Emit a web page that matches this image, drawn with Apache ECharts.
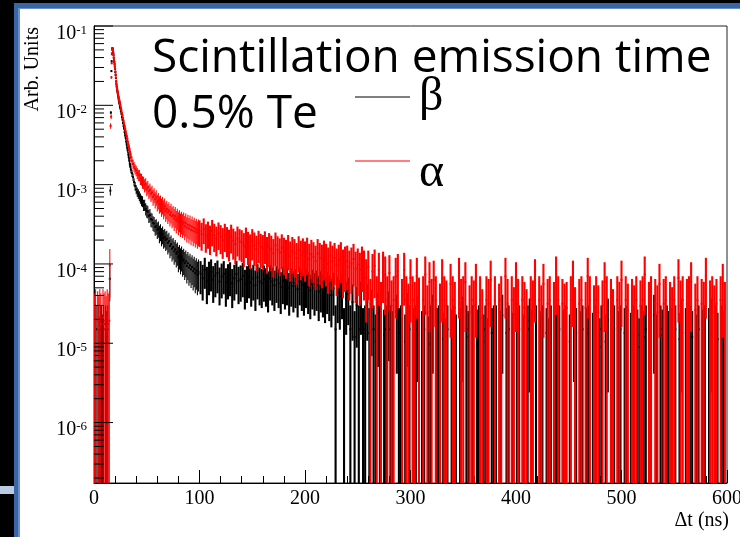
<!DOCTYPE html>
<html>
<head>
<meta charset="utf-8">
<script src="https://cdn.jsdelivr.net/npm/echarts@6/dist/echarts.min.js"></script>
<style>
html,body{margin:0;padding:0;background:#000;width:740px;height:537px;overflow:hidden}
#slide{position:absolute;left:14px;top:3px;width:726px;height:534px;background:#3a66a6}
#edge{position:absolute;left:18px;top:8px;width:722px;height:529px;background:#6890cb}
#page{position:absolute;left:20px;top:9px;width:720px;height:528px;background:#fff}
#tab{position:absolute;left:0;top:486px;width:14px;height:8px;background:#b8cae4}
#main{position:absolute;left:0;top:0;width:740px;height:537px}
</style>
</head>
<body>
<div id="slide"></div><div id="edge"></div><div id="page"></div><div id="tab"></div>
<div id="main"></div>
<script>
// one "count" in Arb. Units for each histogram
var unitBeta = 1.5e-5;
var unitAlpha = 3.5e-5;
var yMin = 1.73e-7, yMax = 0.1;

// before the pulse, 1 ns bins
var betaPre = [1.0,0.8,1.0,0,1.0,0.6,1.0,1.0,0.7,1.0,0,1.0,0.8,1.0,0];
var alphaPre = [0.5,0.6,0,0.55,0.45,0.6,0.5,0,0.6,0.5,0.55,0.45,0.6,0.5,0.55];

// rising edge + fast decay, values in Arb. Units
var headT = [15,15.25,15.5,15.75,16,16.25,16.5,16.75,17,17.25,17.5,17.75,18,18.25,18.5,18.75,19,19.25,19.5,19.75,
  20,20.25,20.5,20.75,21,21.25,21.5,21.75,22,22.25,22.5,22.75,23,23.25,23.5,23.75,24,24.25,24.5,24.75,
  25,25.5,26,26.5,27,27.5,28,28.5,29,29.5,30,30.5,31,31.5,32,32.5,33,33.5,34,34.5];
var betaHead = [6.5e-5,0,8.4e-4,0,0.0081,0,0.027,0.036,0.045,0.051,0.0528,0.0508,0.0486,0.0458,0.0433,0.0398,0.0372,0.0352,0.0330,0.0308,
  0.0286,0.0263,0.0241,0.0220,0.0199,0.0184,0.0172,0.0164,0.0155,0.0148,0.0141,0.0134,0.0128,0.0122,0.0117,0.0112,0.0108,0.0104,0.0099,0.0095,
  0.0091,0.0084,0.0078,0.0071,0.0066,0.0060,0.0055,0.0051,0.0046,0.0042,0.0039,0.0035,0.0032,0.0029,0.0027,0.0024,0.0022,0.0020,0.0018,0.0017];
var alphaHead = [9.6e-5,0,0,0.0055,0,0.0072,0.0225,0.034,0.044,0.050,0.0525,0.0513,0.0490,0.0462,0.0430,0.0401,0.0376,0.0355,0.0334,0.0310,
  0.0289,0.0266,0.0245,0.0224,0.0202,0.0187,0.0176,0.0167,0.0159,0.0151,0.0146,0.0139,0.0133,0.0128,0.0123,0.0119,0.0115,0.0112,0.0107,0.0104,
  0.0100,0.0093,0.0087,0.0080,0.0075,0.0069,0.0064,0.0059,0.0055,0.0051,0.0047,0.0044,0.0041,0.0038,0.0035,0.0032,0.0030,0.0028,0.0026,0.0024];

// 35..99 ns, 1 ns bins, counts
var betaMid = [103,93,83,72,64,58,54,51,48,45,42,41,37,37,33,31,30.5,27,27.5,24.5,24,22,21.5,19.5,20,18,18.6,16.2,17,15,
  15.8,14.1,14.6,13.4,13.8,12.3,12.9,11.2,11.8,10.4,10.9,9.6,10.2,9,9.4,8.1,8.6,7.7,8.2,7.3,7.6,6.8,7.2,6.3,6.8,6,6.4,5.7,6.1,5.4,
  5.8,5.1,5.5,4.9,5.3];
var alphaMid = [64,57,52,48,45,43,40,38,37.5,34,33.5,31,30.5,28,29,25.5,26.5,23.5,24.5,22,22.8,20,21.2,18.6,19.8,17.2,18.1,16.3,16.8,15.1,
  16,14.2,15.2,13.3,14.1,12.7,13.5,11.9,12.8,11.4,11.9,10.7,11.5,10.1,10.9,9.7,10.4,9.3,9.9,9.1,9.6,8.6,9.3,8.2,8.9,8,8.7,7.7,8.4,7.5,
  8.1,7.3,7.8,7.1,7.6];

// 100..600 ns, 2 ns bins, counts (beta from 101, alpha from 100)
var betaTail = [
  5.0,4.4,5.6,4.1,4.9,5.3,4.2,4.7,5.1,4.0, 4.6,5.0,3.9,4.5,4.8,3.8,4.4,5.0,4.1,4.3,
  4.7,3.7,4.2,4.6,3.9,4.4,3.6,4.5,4.0,3.8, 4.3,3.9,3.5,4.4,4.0,3.6,4.2,3.8,3.4,4.1,
  3.7,4.0,3.3,3.9,3.5,3.8,3.2,4.0,3.6,3.3, 3.8,3.4,3.1,3.7,3.3,3.6,3.0,3.5,3.2,2.9,
  3.4,3.0,2.7,3.3,1.0,2.9,2.6,3.1,0.9,2.4, 2.8,1.0,2.2,0.8,2.0,1.0,2.4,0.9,1.0,2.2,
  0.9,1.8,1.0,0.7,1.6,1.0,0,0.85,1.0,1.7, 1.0,0.8,0,1.5,0.9,1.0,0,0.7,1.6,1.0,
  0,0.9,1.0,1.4,0,0.8,1.0,0,0.65,1.0, 1.5,0,0.9,1.0,0,0.75,0.6,1.0,0,0.85,
  1.0,0.7,0,0.9,1.4,0,1.0,0.8,0,1.0, 0,0.85,1.0,0,0.7,1.0,0.6,0,0.9,1.0,
  1.0,0,0.8,1.5,0,0.9,1.0,0,0.75,0, 0.9,1.0,0,0.7,0,1.0,1.3,0.85,0,1.0,
  0,0.8,1.0,0,0.9,0.6,1.0,0,0.7,1.0, 1.0,0,0.85,1.0,0,0.7,0,1.4,0.9,0,
  0.8,1.0,0,0.9,1.0,0,0.75,1.0,0,0.6, 1.0,0,0.7,1.3,0,0.9,1.0,0,0.8,1.0,
  0,0.9,1.0,0,0.75,1.0,0,0.85,0.6,1.0, 0.8,1.0,0,0.9,0,1.5,0.7,0,1.0,0.85,
  0,1.0,0.8,0.9,0,1.0,0,0.75,1.3,0, 0.9,0,1.0,0.8,0,0.7,1.0,0,0.85,1.0,
  0,0.9,1.3,0,1.0,0.75,0,1.0,0.8,0];
var alphaTail = [
  7.4,6.8,7.9,6.5,7.1,6.2,7.5,6.6,6.0,6.9, 6.3,5.7,6.6,5.9,5.4,6.4,5.6,5.1,6.0,5.5,
  5.3,4.8,5.8,5.0,4.6,5.5,4.9,4.4,5.2,4.7, 4.5,5.1,4.2,4.8,4.4,3.9,4.9,4.3,4.0,4.6,
  4.1,3.8,4.5,3.6,4.2,3.9,3.4,4.3,3.7,4.0, 3.6,4.1,3.3,3.8,3.5,3.1,3.9,3.4,3.2,3.7,
  3.3,2.9,3.6,3.1,3.4,2.8,3.2,3.5,2.7,3.0, 3.1,2.6,2.9,3.3,2.5,2.8,2.4,3.0,2.6,1.9,
  2.6,0.9,2.3,2.7,1.0,2.4,0.8,2.5,2.1,1.0, 2.2,0.85,1.0,2.0,2.3,0,0.9,2.4,1.0,0.75,
  1.9,1.0,0.8,2.0,0.95,0,1.0,2.1,0.7,1.7, 0.9,1.8,1.0,0,0.75,1.9,1.0,0.85,0,1.6,
  1.0,0.8,0,2.0,0.9,1.0,1.7,0,0.7,1.0, 0.85,1.6,0,1.0,0.6,0,1.0,0.9,1.8,0,
  1.0,0,0.75,1.0,0,2.0,0.9,0,1.0,0.65, 1.7,0.9,0,1.0,0.8,0.6,0,1.0,0.85,1.9,
  0,1.0,0.7,1.6,0,0.9,1.0,0,0.8,2.1, 1.0,0,0.9,0.75,0.8,0,1.0,1.8,0.65,0,
  0.9,1.0,0,0.8,2.0,1.0,0,0.7,1.0,0.7, 0,0.85,1.7,1.0,0,0.9,0.6,0,1.0,0.8,
  1.8,0,1.0,0.75,0,0.9,0.7,1.0,0,0.85, 1.0,2.1,0,0.8,1.0,0,0.9,0.7,1.6,0,
  0.9,1.0,0,0.8,0.65,1.0,0,1.9,0.85,1.0, 0,0.9,1.0,1.7,0,0.75,1.0,0,0.9,0.8,
  2.0,0,0.85,1.0,0.7,0.9,0,1.0,1.6,0.8];

var yDecades = [-6,-5,-4,-3,-2,-1];
var yMinorSteps = [2,3,4,5,6,7,8,9];

// each point: [t, value, error, bin width ns]
function buildBins(pre, preT0, head, mid, tail, tailT0, unit) {
  var pts = [];
  pre.forEach(function (n, i) { pts.push([preT0 + i, n * unit, 1]); });
  head.forEach(function (v, i) { pts.push([headT[i], v, 0.25]); });
  mid.forEach(function (n, i) { pts.push([35 + i, n * unit, 1]); });
  tail.forEach(function (n, i) { pts.push([tailT0 + 2 * i, n * unit, 2]); });
  return pts.filter(function (p) { return p[1] > 0; }).map(function (p) {
    return [p[0], p[1], Math.sqrt(p[1] * unit), p[2]];
  });
}

function binRenderer(color) {
  return function (params, api) {
    var t = api.value(0), v = api.value(1), e = api.value(2);
    var cs = params.coordSys;
    var bottom = cs.y + cs.height;
    var top = api.coord([t, Math.min(v + e, yMax)]);
    var lo = v - e;
    var yLo = lo > yMin ? api.coord([t, lo])[1] : bottom;
    var w = Math.max(1, api.size([api.value(3), 1])[0]);
    var kids = [{
      type: 'line',
      shape: { x1: top[0], y1: top[1], x2: top[0], y2: yLo },
      style: { stroke: color, lineWidth: w }
    }];
    if (v > yMin) {
      var m = api.coord([t, v]);
      kids.push({ type: 'rect', shape: { x: m[0] - 1, y: m[1] - 1, width: 2, height: 2 }, style: { fill: color } });
    }
    return { type: 'group', children: kids };
  };
}

// ROOT style ticks on the log axis
var yTicks = [];
yDecades.forEach(function (d) {
  yTicks.push([0, Math.pow(10, d), 19]);
  yMinorSteps.forEach(function (k) {
    var v = k * Math.pow(10, d);
    if (v < yMax) yTicks.push([0, v, 10]);
  });
});
yMinorSteps.forEach(function (k) {
  var v = k * 1e-7;
  if (v > yMin) yTicks.push([0, v, 10]);
});

var serif = 'Liberation Serif';
var chart = echarts.init(document.getElementById('main'), null, { renderer: 'canvas' });
chart.setOption({
  backgroundColor: 'transparent',
  animation: false,
  title: {
    text: 'Scintillation emission time\n0.5% Te',
    left: 152, top: 31, padding: 0,
    textStyle: { fontFamily: 'Open Sans', fontSize: 46, fontWeight: 'normal', lineHeight: 56, color: '#000' }
  },
  legend: {
    data: ['β', 'α'],
    left: 350, top: 68, orient: 'vertical',
    itemWidth: 55, itemHeight: 1, itemGap: 4, icon: 'rect',
    selectedMode: false,
    formatter: function (name) { return name === 'α' ? '{a|α}' : '{b|β}'; },
    textStyle: {
      fontFamily: serif, fontSize: 48, color: '#000', padding: 0,
      rich: {
        b: { fontFamily: serif, fontSize: 48, lineHeight: 50, padding: [0, 0, 0, 4] },
        a: { fontFamily: serif, fontSize: 48, lineHeight: 26, padding: [24, 0, 0, 4] }
      }
    }
  },
  grid: { left: 94, top: 26, right: 13, bottom: 54, outerBoundsMode: 'none', containLabel: false,
    show: true, borderColor: '#222', borderWidth: 1 },
  xAxis: {
    type: 'value', min: 0, max: 600, interval: 100,
    axisLine: { lineStyle: { color: '#000', width: 1 } },
    axisTick: { inside: true, length: 13, lineStyle: { color: '#000' } },
    minorTick: { show: true, splitNumber: 5, length: 7, lineStyle: { color: '#000' } },
    splitLine: { show: false },
    axisLabel: { fontFamily: serif, fontSize: 20, color: '#000', margin: 6, hideOverlap: false }
  },
  yAxis: {
    type: 'log', logBase: 10, min: yMin, max: yMax,
    axisLine: { show: true, lineStyle: { color: '#000', width: 1 } },
    axisTick: { show: false },
    splitLine: { show: false },
    axisLabel: {
      margin: 7,
      formatter: function (val) {
        var k = Math.log10(val), r = Math.round(k);
        if (Math.abs(k - r) > 1e-6) return '';
        return '{b|10}{s|' + r + '}';
      },
      rich: {
        b: { fontFamily: serif, fontSize: 20, color: '#000', lineHeight: 20, padding: [15, 0, 0, 0] },
        s: { fontFamily: serif, fontSize: 13, color: '#000', lineHeight: 13, padding: [8, 0, 0, 0], verticalAlign: 'top' }
      }
    }
  },
  graphic: [
    { type: 'text', x: 33, y: 27, rotation: Math.PI / 2,
      style: { text: 'Arb. Units', fontFamily: serif, fontSize: 20, fill: '#000', align: 'right', verticalAlign: 'middle' } },
    { type: 'text', x: 729, y: 521,
      style: { text: 'Δt (ns)', fontFamily: serif, fontSize: 20, fill: '#000', align: 'right', verticalAlign: 'middle' } }
  ],
  series: [
    { name: 'β', type: 'custom', clip: true, progressive: 0, itemStyle: { color: '#000' },
      data: buildBins(betaPre, 0, betaHead, betaMid, betaTail, 101, unitBeta), renderItem: binRenderer('#000') },
    { name: 'α', type: 'custom', clip: true, progressive: 0, itemStyle: { color: '#ff0000' },
      data: buildBins(alphaPre, 0.5, alphaHead, alphaMid, alphaTail, 100, unitAlpha), renderItem: binRenderer('#ff0000') },
    { name: 'ticks', type: 'custom', clip: false, silent: true, data: yTicks,
      renderItem: function (params, api) {
        var p = api.coord([0, api.value(1)]);
        return { type: 'line', shape: { x1: p[0], y1: p[1], x2: p[0] + api.value(2), y2: p[1] }, style: { stroke: '#000', lineWidth: 1 } };
      } }
  ]
});
</script>
</body>
</html>
